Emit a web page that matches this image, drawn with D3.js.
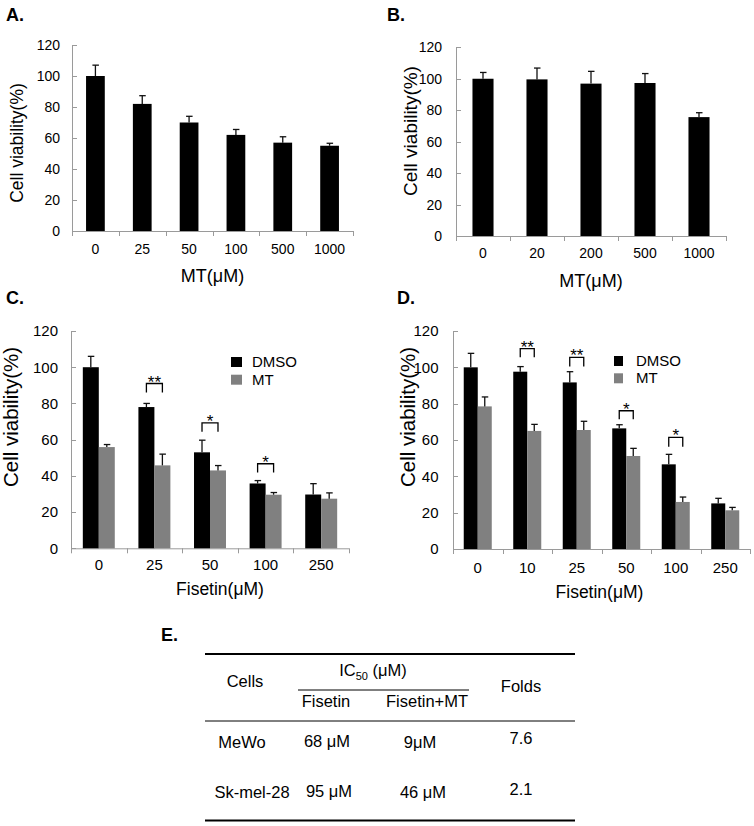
<!DOCTYPE html>
<html>
<head>
<meta charset="utf-8">
<script src="https://cdn.jsdelivr.net/npm/d3@7"></script>
<style>
  html, body { margin: 0; padding: 0; background: #fff; }
  svg text { font-family: "Liberation Sans", Arial, Helvetica, sans-serif; fill: #000; }
</style>
</head>
<body>
<svg id="fig" width="754" height="826"></svg>
<script>
// ---------------- DATA ----------------
const yTicks = [0, 20, 40, 60, 80, 100, 120];

// Panel A
const aCategories = ["0", "25", "50", "100", "500", "1000"];
const aValues = [100, 82, 70, 62, 57, 55];
const aErrors = [7, 5.3, 4, 3.5, 3.8, 1.6];

// Panel B
const bCategories = ["0", "20", "200", "500", "1000"];
const bValues = [100, 99.6, 96.9, 97.3, 75.6];
const bErrors = [4, 7.2, 7.8, 6, 2.8];

// Panel C
const cCategories = ["0", "25", "50", "100", "250"];
const cDMSO = [100, 78, 53, 35.8, 29.7];
const cDMSOErr = [6, 2, 6.7, 1.6, 6];
const cMT = [55.9, 45.8, 43, 29.6, 27.4];
const cMTErr = [1.4, 6.2, 2.7, 1.2, 3.2];
const cSigGroups = ["25", "50", "100"];
const cSigTop = [91, 69.3, 46.7];
const cSigLeg = [86, 64.4, 41.8];
const cSigLabels = ["**", "*", "*"];

// Panel D
const dCategories = ["0", "10", "25", "50", "100", "250"];
const dDMSO = [100, 97.6, 91.7, 66.4, 46.6, 25.1];
const dDMSOErr = [7.7, 2.8, 5.9, 2, 5.5, 2.8];
const dMT = [78.5, 65, 65.5, 51.2, 25.9, 21.3];
const dMTErr = [5.2, 3.6, 4.8, 4.2, 2.7, 1.6];
const dSigGroups = ["10", "25", "50", "100"];
const dSigTop = [110.3, 105.5, 76.1, 61.5];
const dSigLeg = [105.5, 100.4, 71.4, 56.3];
const dSigLabels = ["**", "**", "*", "*"];

const seriesNames = ["DMSO", "MT"];
const seriesColors = ["#000000", "#808080"];

// Panel E table
const tableCells = ["MeWo", "Sk-mel-28"];
const tableFisetin = ["68 μM", "95 μM"];
const tableFisetinMT = ["9μM", "46 μM"];
const tableFolds = ["7.6", "2.1"];

// ---------------- DRAWING ----------------
const svg = d3.select("#fig");
const AXIS = "#9a9a9a";

function panel(cfg) {
  const g = svg.append("g");
  const x = d3.scaleBand().domain(cfg.categories).range([cfg.x0, cfg.x1]).paddingInner(0).paddingOuter(0);
  const y = d3.scaleLinear().domain([0, 120]).range([cfg.yBot, cfg.yTop]);

  // axes lines
  g.append("line").attr("x1", cfg.x0 + 0.5).attr("x2", cfg.x0 + 0.5)
    .attr("y1", y(0)).attr("y2", y(120)).attr("stroke", AXIS).attr("stroke-width", 1);
  g.append("line").attr("x1", cfg.x0).attr("x2", cfg.x1)
    .attr("y1", y(0) + 0.5).attr("y2", y(0) + 0.5).attr("stroke", AXIS).attr("stroke-width", 1);

  // y ticks (inside) and labels
  yTicks.forEach(t => {
    g.append("line").attr("x1", cfg.x0).attr("x2", cfg.x0 + 5)
      .attr("y1", Math.round(y(t)) + 0.5).attr("y2", Math.round(y(t)) + 0.5)
      .attr("stroke", AXIS).attr("stroke-width", 1);
    g.append("text").attr("x", cfg.yLabelRight).attr("y", y(t))
      .attr("dy", "0.36em").attr("text-anchor", "end")
      .attr("font-size", cfg.tickSize).text(t);
  });

  // x ticks at category boundaries
  const bounds = cfg.categories.map(c => x(c)).concat([cfg.x1]);
  bounds.forEach(b => {
    g.append("line").attr("x1", Math.round(b) + 0.5).attr("x2", Math.round(b) + 0.5)
      .attr("y1", y(0)).attr("y2", y(0) + 5).attr("stroke", AXIS).attr("stroke-width", 1);
  });
  cfg.categories.forEach(c => {
    g.append("text").attr("x", x(c) + x.bandwidth() / 2).attr("y", cfg.xTickBase)
      .attr("text-anchor", "middle").attr("font-size", cfg.tickSize).text(c);
  });

  // titles
  g.append("text").attr("x", (cfg.x0 + cfg.x1) / 2 + (cfg.xTitleShift || 0)).attr("y", cfg.xTitleBase)
    .attr("text-anchor", "middle").attr("font-size", cfg.xTitleSize).text(cfg.xTitle);
  g.append("text").attr("transform", `translate(${cfg.yTitleX},${cfg.yTitleY}) rotate(-90)`)
    .attr("text-anchor", "middle").attr("font-size", cfg.yTitleSize).text("Cell viability(%)");

  // panel letter
  g.append("text").attr("x", cfg.letterX).attr("y", cfg.letterY)
    .attr("font-size", 18).attr("font-weight", "bold").text(cfg.letter);

  // bars
  const series = cfg.series;
  const inner = d3.scaleBand().domain(d3.range(series.length))
    .range([0, x.bandwidth() * cfg.groupFrac]);
  const offset = x.bandwidth() * (1 - cfg.groupFrac) / 2;
  series.forEach((s, si) => {
    cfg.categories.forEach((c, i) => {
      const bx = x(c) + offset + inner(si);
      const bw = inner.bandwidth();
      g.append("rect").attr("x", bx).attr("y", y(s.values[i]))
        .attr("width", bw).attr("height", y(0) - y(s.values[i]))
        .attr("fill", s.color);
      const cx = bx + bw / 2;
      const top = y(s.values[i] + s.errors[i]);
      g.append("line").attr("x1", cx).attr("x2", cx)
        .attr("y1", y(s.values[i])).attr("y2", top)
        .attr("stroke", "#111").attr("stroke-width", 1.3);
      g.append("line").attr("x1", cx - 3).attr("x2", cx + 3.5)
        .attr("y1", top).attr("y2", top)
        .attr("stroke", "#111").attr("stroke-width", 1.3);
    });
  });

  // significance brackets
  if (cfg.sig) {
    cfg.sig.groups.forEach((c, k) => {
      const xa = x(c) + offset + inner(0) + inner.bandwidth() / 2;
      const xb = x(c) + offset + inner(1) + inner.bandwidth() / 2;
      const yt = y(cfg.sig.top[k]);
      const yl = y(cfg.sig.leg[k]);
      g.append("path")
        .attr("d", `M${xa},${yl} L${xa},${yt} L${xb},${yt} L${xb},${yl}`)
        .attr("fill", "none").attr("stroke", "#000").attr("stroke-width", 1.3);
      g.append("text").attr("x", (xa + xb) / 2).attr("y", yt + 4)
        .attr("text-anchor", "middle").attr("font-size", 17)
        .text(cfg.sig.labels[k]);
    });
  }

  // legend
  if (cfg.legend) {
    series.forEach((s, si) => {
      const ly = cfg.legend.y + si * cfg.legend.step;
      g.append("rect").attr("x", cfg.legend.x).attr("y", ly)
        .attr("width", cfg.legend.w).attr("height", 10).attr("fill", s.color);
      g.append("text").attr("x", cfg.legend.tx).attr("y", ly + 10)
        .attr("font-size", 15).text(s.name);
    });
  }
}

panel({
  letter: "A.", letterX: 6, letterY: 21,
  categories: aCategories, x0: 72, x1: 353, yTop: 45, yBot: 231,
  groupFrac: 0.4,
  series: [{ name: "", values: aValues, errors: aErrors, color: seriesColors[0] }],
  tickSize: 14, yLabelRight: 60, xTickBase: 254,
  xTitle: "MT(μM)", xTitleBase: 282, xTitleSize: 18,
  yTitleX: 23, yTitleY: 143, yTitleSize: 17.5
});

panel({
  letter: "B.", letterX: 387, letterY: 21,
  categories: bCategories, x0: 456, x1: 726, yTop: 47.3, yBot: 236,
  groupFrac: 0.39,
  series: [{ name: "", values: bValues, errors: bErrors, color: seriesColors[0] }],
  tickSize: 14, yLabelRight: 442, xTickBase: 258,
  xTitle: "MT(μM)", xTitleBase: 287, xTitleSize: 18,
  yTitleX: 417, yTitleY: 131, yTitleSize: 19
});

panel({
  letter: "C.", letterX: 6, letterY: 304,
  categories: cCategories, x0: 71, x1: 349, yTop: 331, yBot: 548.3,
  groupFrac: 0.575,
  series: [
    { name: seriesNames[0], values: cDMSO, errors: cDMSOErr, color: seriesColors[0] },
    { name: seriesNames[1], values: cMT, errors: cMTErr, color: seriesColors[1] }
  ],
  sig: { groups: cSigGroups, top: cSigTop, leg: cSigLeg, labels: cSigLabels },
  legend: { x: 231, y: 357, step: 17.7, w: 11, tx: 252 },
  tickSize: 15, yLabelRight: 58, xTickBase: 570,
  xTitle: "Fisetin(μM)", xTitleBase: 595, xTitleSize: 17.5, xTitleShift: 10,
  yTitleX: 18, yTitleY: 417, yTitleSize: 20.5
});

panel({
  letter: "D.", letterX: 397, letterY: 304,
  categories: dCategories, x0: 453, x1: 750, yTop: 331, yBot: 549,
  groupFrac: 0.566,
  series: [
    { name: seriesNames[0], values: dDMSO, errors: dDMSOErr, color: seriesColors[0] },
    { name: seriesNames[1], values: dMT, errors: dMTErr, color: seriesColors[1] }
  ],
  sig: { groups: dSigGroups, top: dSigTop, leg: dSigLeg, labels: dSigLabels },
  legend: { x: 614, y: 356, step: 17.3, w: 9, tx: 636 },
  tickSize: 15, yLabelRight: 438.5, xTickBase: 572.5,
  xTitle: "Fisetin(μM)", xTitleBase: 598, xTitleSize: 17.5, xTitleShift: -2,
  yTitleX: 415, yTitleY: 417, yTitleSize: 20.5
});

// ---------------- TABLE E ----------------
const t = svg.append("g");
t.append("text").attr("x", 161).attr("y", 641).attr("font-size", 18)
  .attr("font-weight", "bold").text("E.");
const tx0 = 205, tx1 = 575;
t.append("line").attr("x1", tx0).attr("x2", tx1).attr("y1", 654).attr("y2", 654)
  .attr("stroke", "#000").attr("stroke-width", 2);
t.append("line").attr("x1", 298).attr("x2", 469).attr("y1", 690).attr("y2", 690)
  .attr("stroke", "#000").attr("stroke-width", 1);
t.append("line").attr("x1", tx0).attr("x2", tx1).attr("y1", 721).attr("y2", 721)
  .attr("stroke", "#000").attr("stroke-width", 1);
t.append("line").attr("x1", tx0).attr("x2", tx1).attr("y1", 820.5).attr("y2", 820.5)
  .attr("stroke", "#000").attr("stroke-width", 2.2);

const TF = 16.5;
t.append("text").attr("x", 245).attr("y", 687).attr("text-anchor", "middle")
  .attr("font-size", TF).text("Cells");
const ic = t.append("text").attr("x", 373).attr("y", 676).attr("text-anchor", "middle")
  .attr("font-size", TF);
ic.append("tspan").text("IC");
ic.append("tspan").attr("font-size", 11).attr("dy", 4).text("50");
ic.append("tspan").attr("dy", -4).text(" (μM)");
t.append("text").attr("x", 326).attr("y", 707).attr("text-anchor", "middle")
  .attr("font-size", TF).text("Fisetin");
t.append("text").attr("x", 427).attr("y", 707).attr("text-anchor", "middle")
  .attr("font-size", TF).text("Fisetin+MT");
t.append("text").attr("x", 521).attr("y", 692).attr("text-anchor", "middle")
  .attr("font-size", TF).text("Folds");

const rowBase = [748, 798];
const foldBase = [744, 795];
const cellX = [242, 252];
const fisX = [327, 329];
const fmtX = [420, 423];
tableCells.forEach((c, i) => {
  t.append("text").attr("x", cellX[i]).attr("y", rowBase[i]).attr("text-anchor", "middle")
    .attr("font-size", TF).text(c);
  t.append("text").attr("x", fisX[i]).attr("y", rowBase[i] - 1).attr("text-anchor", "middle")
    .attr("font-size", TF).text(tableFisetin[i]);
  t.append("text").attr("x", fmtX[i]).attr("y", rowBase[i]).attr("text-anchor", "middle")
    .attr("font-size", TF).text(tableFisetinMT[i]);
  t.append("text").attr("x", 521).attr("y", foldBase[i]).attr("text-anchor", "middle")
    .attr("font-size", TF).text(tableFolds[i]);
});
</script>
</body>
</html>
